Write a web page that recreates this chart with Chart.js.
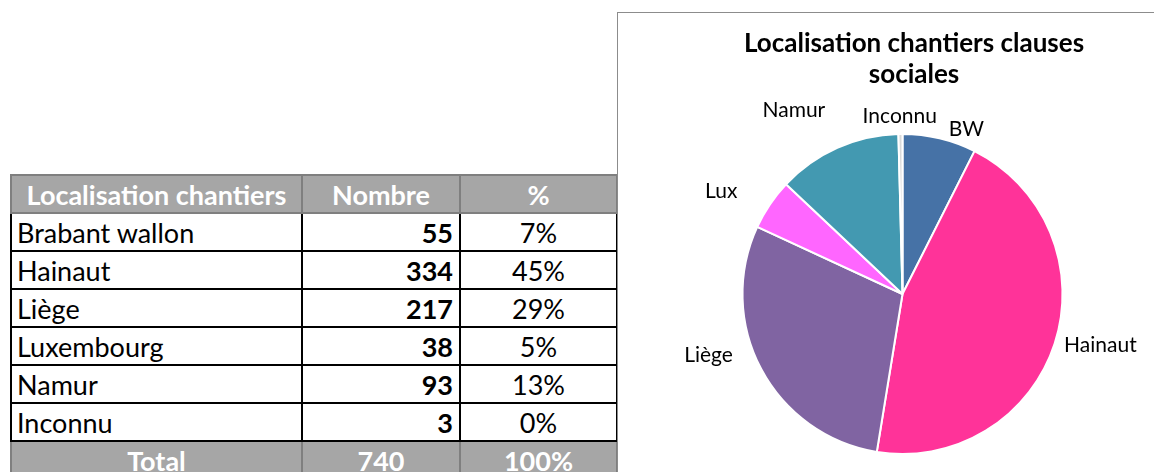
<!DOCTYPE html>
<html>
<head>
<meta charset="utf-8">
<script src="https://cdn.jsdelivr.net/npm/chart.js@4.4.0/dist/chart.umd.min.js"></script>
<style>
  body { margin: 0; background: #fff; font-family: Lato, 'Open Sans', sans-serif; }
  #tbl { position: absolute; left: 10px; top: 174px; border-collapse: collapse; font-size: 27px; color: #000; table-layout: fixed; }
  #tbl td, #tbl th { height: 36px; padding: 0 6px; border: 2px solid #000; line-height: 1; white-space: nowrap; overflow: hidden; }
  #tbl th, #tbl tr.total td { background: #a6a6a6; color: #fff; font-weight: bold; border-color: #7f7f7f; text-align: center; }
  #tbl td.num { text-align: right; font-weight: bold; }
  #tbl td.pct { text-align: center; }
  #tbl td.name { text-align: left; padding-left: 5px; }
  #panel { position: absolute; left: 617px; top: 12px; width: 592px; height: 470px; border-left: 1px solid #8c8c8c; border-top: 1px solid #8c8c8c; }
</style>
</head>
<body>
<table id="tbl">
  <colgroup><col style="width:291px"><col style="width:158px"><col style="width:157px"></colgroup>
  <thead><tr><th>Localisation chantiers</th><th>Nombre</th><th>%</th></tr></thead>
  <tbody id="rows"></tbody>
</table>
<div id="panel"><canvas id="pie" width="592" height="470"></canvas></div>
<script>
const regions = ['Brabant wallon', 'Hainaut', 'Liège', 'Luxembourg', 'Namur', 'Inconnu'];
const shortLabels = ['BW', 'Hainaut', 'Liège', 'Lux', 'Namur', 'Inconnu'];
const counts = [55, 334, 217, 38, 93, 3];
const sliceColors = ['#4672a6', '#ff3399', '#8064a2', '#ff66ff', '#4399b1', '#d9d9d9'];
const chartTitle = ['Localisation chantiers clauses', 'sociales'];

const total = counts.reduce((a, b) => a + b, 0);

// build the table
const tbody = document.getElementById('rows');
regions.forEach((name, i) => {
  const tr = document.createElement('tr');
  tr.innerHTML = `<td class="name">${name}</td><td class="num">${counts[i]}</td><td class="pct">${Math.round(counts[i] / total * 100)}%</td>`;
  tbody.appendChild(tr);
});
const totalRow = document.createElement('tr');
totalRow.className = 'total';
totalRow.innerHTML = `<td>Total</td><td>${total}</td><td>100%</td>`;
tbody.appendChild(totalRow);

// title drawn at the middle of the canvas
const TitlePlugin = {
  id: 'centerTitle',
  afterDraw(chart) {
    const { ctx, width } = chart;
    ctx.save();
    ctx.font = 'bold 26px Lato';
    ctx.fillStyle = '#000';
    ctx.textAlign = 'center';
    ctx.textBaseline = 'alphabetic';
    chartTitle.forEach((line, i) => ctx.fillText(line, width / 2, 39 + i * 31));
    ctx.restore();
  },
};

// category names outside the slices, with small hand nudges like Excel's best fit
const OutsideLabels = {
  id: 'outsideLabels',
  afterDatasetsDraw(chart, args, opts) {
    const { ctx } = chart;
    const meta = chart.getDatasetMeta(0);
    const nudge = opts.nudge || [];
    ctx.save();
    ctx.font = '21px Lato';
    ctx.fillStyle = '#000';
    ctx.textAlign = 'center';
    ctx.textBaseline = 'middle';
    meta.data.forEach((arc, i) => {
      const { x, y, startAngle, endAngle, outerRadius } = arc.getProps(['x', 'y', 'startAngle', 'endAngle', 'outerRadius'], true);
      const mid = (startAngle + endAngle) / 2;
      const r = outerRadius + 16;
      const text = chart.data.labels[i];
      const w = ctx.measureText(text).width;
      const [dx, dy] = nudge[i] || [0, 0];
      const cx = x + Math.cos(mid) * (r + w / 2) + dx;
      const cy = y + Math.sin(mid) * (r + 10) + dy;
      ctx.fillText(text, cx, cy);
    });
    ctx.restore();
  },
};

new Chart(document.getElementById('pie'), {
  type: 'pie',
  plugins: [TitlePlugin, OutsideLabels],
  data: {
    labels: shortLabels,
    datasets: [{
      data: counts,
      backgroundColor: sliceColors,
      borderColor: '#fff',
      borderWidth: 2,
    }],
  },
  options: {
    responsive: false,
    animation: false,
    radius: 160,
    layout: { padding: { left: 0, right: 23, top: 121, bottom: 29 } },
    plugins: {
      legend: { display: false },
      tooltip: { enabled: false },
      title: { display: false },
      outsideLabels: { nudge: [[19, 16], [-4, -6], [-17, -26], [-22, 1], [-24, -14], [0, 8]] },
    },
  },
});
</script>
</body>
</html>
